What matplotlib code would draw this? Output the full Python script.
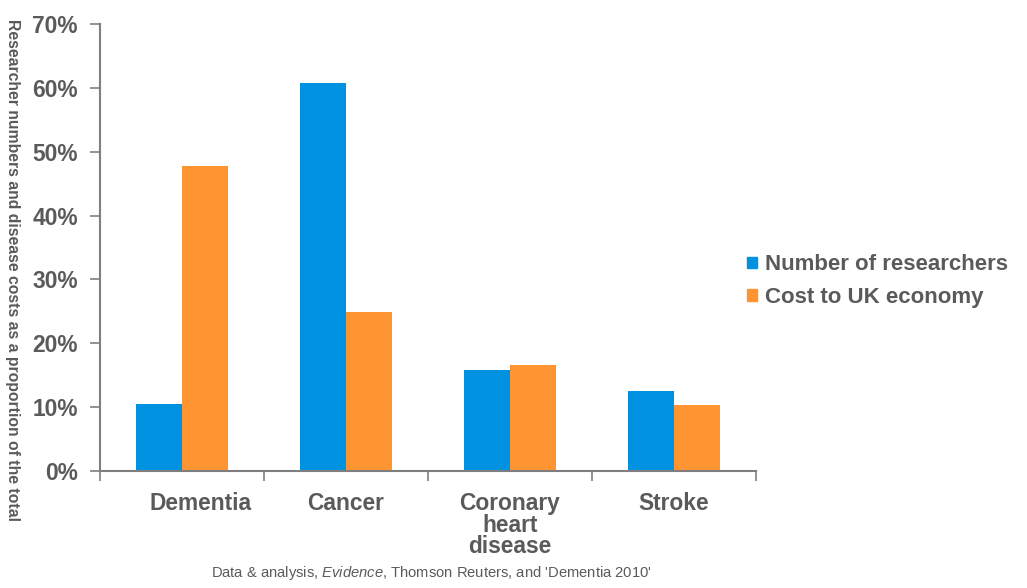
import numpy as np
import matplotlib
matplotlib.use("Agg")
import matplotlib.pyplot as plt
import matplotlib.transforms as mtransforms
from matplotlib.patches import Patch

plt.rcParams['font.family'] = ['Liberation Sans', 'DejaVu Sans']
plt.rcParams['mathtext.fontset'] = 'custom'
plt.rcParams['mathtext.it'] = 'Liberation Sans:italic'
plt.rcParams['mathtext.rm'] = 'Liberation Sans'

categories = ['Dementia', 'Cancer', 'Coronary\nheart\ndisease', 'Stroke']
researchers = [10.5, 60.8, 15.8, 12.5]
cost = [47.8, 24.9, 16.6, 10.4]
y_ticks = [0, 10, 20, 30, 40, 50, 60, 70]

BLUE = '#0091e1'
ORANGE = '#ff9433'
TXT = '#5a5a5a'
AX = '#7f7f7f'

fig = plt.figure(figsize=(10.27, 5.88), dpi=100)
ax = fig.add_axes([100 / 1027, 1 - 471 / 588, 656 / 1027, 447 / 588])

x = np.arange(len(categories))
w = 0.28
ax.bar(x - w / 2, researchers, w, color=BLUE, label='Number of researchers')
ax.bar(x + w / 2, cost, w, color=ORANGE, label='Cost to UK economy')

ax.set_xlim(-0.5, len(categories) - 0.5)
ax.set_ylim(0, 70)
ax.set_yticks(y_ticks)
ax.set_yticklabels(['%d%%' % v for v in y_ticks], fontsize=16.4, fontweight='bold', color=TXT)

# category labels on major ticks, boundary ticks on minor ticks
ax.set_xticks(x)
labels = ax.set_xticklabels(categories, fontsize=16.4, fontweight='bold', color=TXT,
                            linespacing=0.93, va='top')
ax.set_xticks(np.arange(-0.5, len(categories), 1.0), minor=True)
ax.tick_params(axis='x', which='major', length=0, pad=15)
ax.tick_params(axis='x', which='minor', length=7, width=1.2, color=AX, direction='out')
ax.tick_params(axis='y', length=7, width=1.2, color=AX, direction='out', pad=9)

# the first label sits a little right of its bars in the original
labels[0].set_transform(labels[0].get_transform() +
                        mtransforms.ScaledTranslation(0.19, 0, fig.dpi_scale_trans))

for side in ['top', 'right']:
    ax.spines[side].set_visible(False)
for side in ['left', 'bottom']:
    ax.spines[side].set_color(AX)
    ax.spines[side].set_linewidth(1.5)

handles = [Patch(color=BLUE), Patch(color=ORANGE)]
leg = fig.legend(handles, ['Number of researchers', 'Cost to UK economy'],
                 loc='center left', bbox_to_anchor=(727 / 1027, 1 - 281 / 588),
                 frameon=False, handlelength=0.45, handleheight=0.45, handletextpad=0.35,
                 labelspacing=0.5, prop={'size': 16, 'weight': 'bold'})
for t in leg.get_texts():
    t.set_color(TXT)

fig.text(12 / 1027, 1 - 270 / 588, 'Researcher numbers and disease costs as a proportion of the total',
         rotation=270, ha='center', va='center', fontsize=11.3, fontweight='bold', color=TXT)

fig.text(431 / 1027, 1 - 573 / 588,
         r"Data & analysis, $\it{Evidence}$, Thomson Reuters, and 'Dementia 2010'",
         ha='center', va='center', fontsize=10.6, color=TXT)

fig.savefig('out.png', dpi=100)
